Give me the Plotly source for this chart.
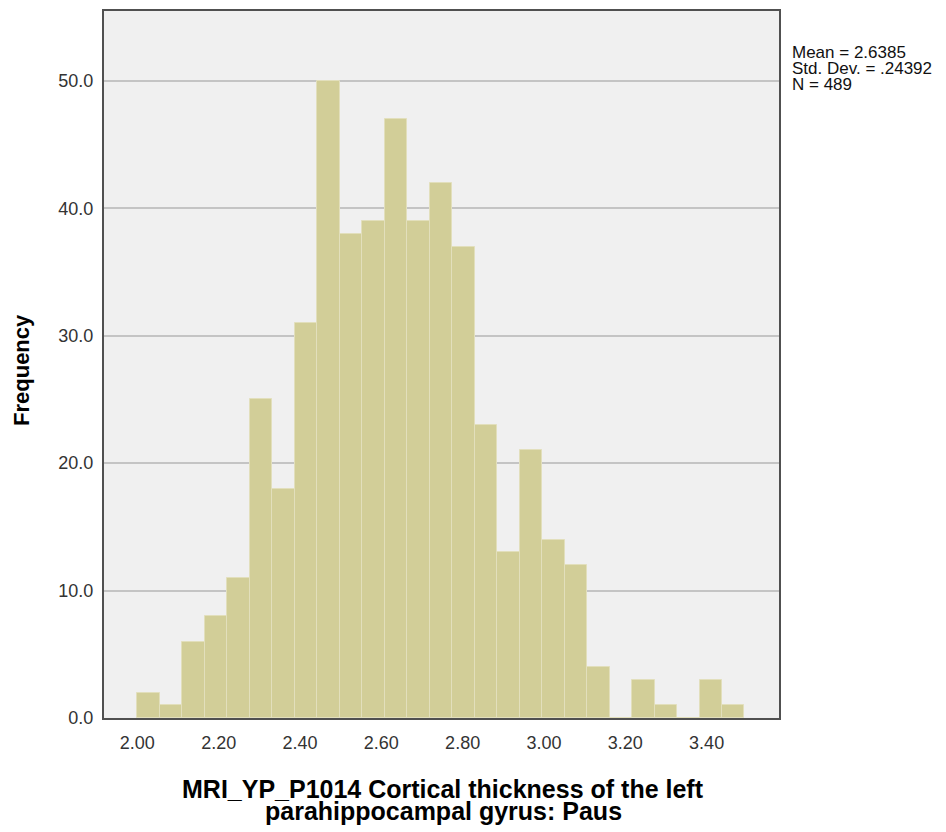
import plotly.graph_objects as go

# ---- data ----
bin_start = 2.0
bin_width = 0.0553
counts = [2, 1, 6, 8, 11, 25, 18, 31, 50, 38, 39, 47, 39, 42, 37,
          23, 13, 21, 14, 12, 4, 0, 3, 1, 0, 3, 1]
x_tick_vals = [2.0, 2.2, 2.4, 2.6, 2.8, 3.0, 3.2, 3.4]
y_tick_vals = [0, 10, 20, 30, 40, 50]
stats_lines = ["Mean = 2.6385", "Std. Dev. = .24392", "N = 489"]
x_title_lines = ["MRI_YP_P1014 Cortical thickness of the left",
                 "parahippocampal gyrus: Paus"]
y_title = "Frequency"

centers = [bin_start + bin_width * (i + 0.5) for i in range(len(counts))]

# page body adds an 8px offset; layout below is in absolute window pixels
OFF = 8
W, H = 946 - OFF, 832 - OFF
PLOT_L, PLOT_R, PLOT_T, PLOT_B = 104, 779, 9, 718
ML = PLOT_L - OFF
MT = PLOT_T - OFF
PW = PLOT_R - PLOT_L
PH = PLOT_B - PLOT_T
MR = W - ML - PW
MB = H - MT - PH


def px_x(px):
    return (px - PLOT_L) / PW


def px_y(py):
    return (PLOT_B - py) / PH


fig = go.Figure()
fig.add_trace(go.Bar(
    x=centers, y=counts, width=[bin_width] * len(counts),
    marker=dict(color="#D2CE98", line=dict(color="#E2DFBC", width=1)),
    hoverinfo="x+y",
))

font_main = "Arial, Liberation Sans, sans-serif"

fig.update_layout(
    width=W, height=H,
    margin=dict(l=ML, r=MR, t=MT, b=MB),
    paper_bgcolor="white", plot_bgcolor="#F0F0F0",
    bargap=0, showlegend=False,
    font=dict(family=font_main, color="#222222"),
)
fig.update_xaxes(
    range=[1.918, 3.578], tickvals=x_tick_vals, tickformat=".2f",
    showgrid=False, zeroline=False, showline=True, mirror=True,
    linecolor="#505050", linewidth=2, ticks="",
    tickfont=dict(size=18, color="#333333"), ticklabelstandoff=7,
)
fig.update_yaxes(
    range=[0, 55.48], tickvals=y_tick_vals, tickformat=".1f",
    showgrid=True, gridcolor="#C4C4C4", gridwidth=1.5, zeroline=False,
    showline=True, mirror=True, linecolor="#505050", linewidth=2, ticks="",
    tickfont=dict(size=18, color="#333333"), ticklabelstandoff=5,
)

annotations = []
for i, line in enumerate(stats_lines):
    annotations.append(dict(
        text=line, xref="paper", yref="paper",
        x=px_x(790), y=px_y(51 + 16 * i), xanchor="left", yanchor="middle",
        showarrow=False, font=dict(size=17, color="#111111", family=font_main),
    ))
for i, line in enumerate(x_title_lines):
    annotations.append(dict(
        text="<b>" + line + "</b>", xref="paper", yref="paper",
        x=px_x(443), y=px_y(789 + 22 * i), xanchor="center", yanchor="middle",
        showarrow=False, font=dict(size=25, color="#000000", family=font_main),
    ))
annotations.append(dict(
    text="<b>" + y_title + "</b>", xref="paper", yref="paper",
    x=px_x(22), y=px_y(369), xanchor="center", yanchor="middle",
    textangle=-90, showarrow=False,
    font=dict(size=22, color="#000000", family=font_main),
))
fig.update_layout(annotations=annotations)

fig.write_html("out.html")
